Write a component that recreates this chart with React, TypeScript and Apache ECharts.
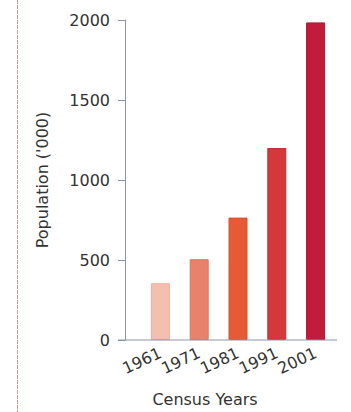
import React, { useEffect, useRef } from "react";
import * as echarts from "echarts";

const categories = ["1961", "1971", "1981", "1991", "2001"];
const population = [355, 505, 765, 1200, 1985];
const barColors = ["#f4bfae", "#e8826a", "#e65a36", "#d4383a", "#c11d3b"];
const barBorders = ["#eeb0a0", "#dd7560", "#d84e2c", "#c42e32", "#b01634"];
const yTicks = { min: 0, max: 2000, interval: 500 };

const W = 351;
const H = 412;
const GRID_LEFT = 141;
const GRID_RIGHT = 16;
const GRID_TOP = 20;
const GRID_BOTTOM = 72;
const AXIS_COLOR = "#8e93ab";
const TEXT_COLOR = "#333333";
const FONT = "DejaVu Sans";

export default function App() {
  const ref = useRef<HTMLDivElement>(null);
  useEffect(() => {
    if (!ref.current) return;
    const chart = echarts.init(ref.current, undefined, { renderer: "svg" });
    const baseY = H - GRID_BOTTOM;
    chart.setOption({
      animation: false,
      backgroundColor: "#ffffff",
      grid: { left: GRID_LEFT, right: GRID_RIGHT, top: GRID_TOP, bottom: GRID_BOTTOM },
      xAxis: {
        type: "category",
        data: categories,
        axisLine: { show: false },
        axisTick: { show: false },
        axisLabel: {
          interval: 0,
          hideOverlap: false,
          rotate: 25,
          margin: 12,
          color: TEXT_COLOR,
          fontFamily: FONT,
          fontSize: 16,
        },
      },
      yAxis: {
        type: "value",
        min: yTicks.min,
        max: yTicks.max,
        interval: yTicks.interval,
        offset: GRID_LEFT - 125,
        name: "Population ('000)",
        nameLocation: "middle",
        nameGap: 75,
        nameTextStyle: { color: TEXT_COLOR, fontFamily: FONT, fontSize: 16 },
        axisLine: { show: true, lineStyle: { color: AXIS_COLOR, width: 1 } },
        axisTick: { show: true, length: 7, lineStyle: { color: AXIS_COLOR } },
        splitLine: { show: false },
        axisLabel: {
          margin: 15,
          color: TEXT_COLOR,
          fontFamily: FONT,
          fontSize: 16,
          formatter: (v: number) => String(v),
        },
      },
      title: {
        text: "Census Years",
        left: 200,
        top: 386,
        textAlign: "center",
        textStyle: { color: TEXT_COLOR, fontFamily: FONT, fontSize: 16, fontWeight: "normal" },
      },
      graphic: [
        {
          type: "line",
          shape: { x1: 118, y1: baseY, x2: 337, y2: baseY },
          style: { stroke: AXIS_COLOR, lineWidth: 1 },
          z: 10,
        },
        {
          type: "line",
          shape: { x1: 17.5, y1: 0, x2: 17.5, y2: H },
          style: { stroke: "#c89a9a", lineWidth: 1, lineDash: [4, 1] },
        },
      ],
      series: [
        {
          type: "bar",
          barWidth: 19,
          data: population.map((v, i) => ({
            value: v,
            itemStyle: { color: barColors[i], borderColor: barBorders[i], borderWidth: 1 },
          })),
        },
      ],
    });
    return () => chart.dispose();
  }, []);
  return (
    <div
      ref={ref}
      style={{ position: "fixed", left: 0, top: 0, width: W, height: H }}
    />
  );
}
